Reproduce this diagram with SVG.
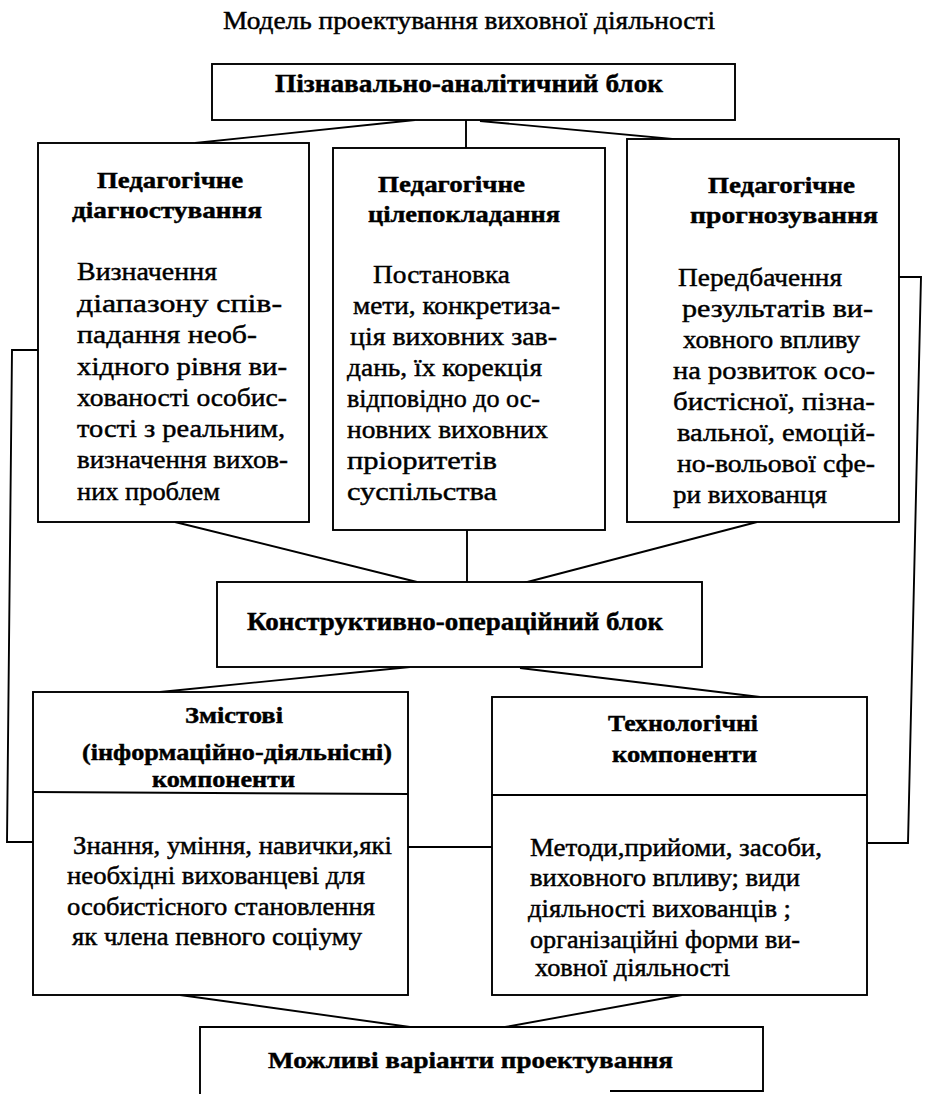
<svg xmlns="http://www.w3.org/2000/svg" width="929" height="1094" viewBox="0 0 929 1094">
<style>
.box{fill:#fff;stroke:#000;stroke-width:1.9}
.ln{fill:none;stroke:#000;stroke-width:1.9}
text{font-family:"Liberation Serif","Times New Roman",serif;fill:#000;stroke:#000;stroke-width:0.45}
.b{font-weight:bold}
.h{font-size:24px;font-weight:bold}
.t{font-size:26px}
.u{font-size:25px}
</style>
<rect x="0" y="0" width="929" height="1094" fill="#fff"/>
<text x="223" y="29" style="font-size:25px" textLength="492" lengthAdjust="spacingAndGlyphs">Модель проектування виховної діяльності</text>
<g id="connectors">
<line class="ln" x1="415" y1="120" x2="195" y2="143"/>
<line class="ln" x1="466" y1="120" x2="466" y2="148"/>
<line class="ln" x1="480" y1="121" x2="790" y2="150"/>
<line class="ln" x1="175" y1="522" x2="417" y2="582"/>
<line class="ln" x1="467" y1="530" x2="467" y2="582"/>
<line class="ln" x1="757" y1="522" x2="512" y2="586"/>
<line class="ln" x1="410" y1="667" x2="160" y2="692"/>
<line class="ln" x1="520" y1="668" x2="760" y2="697"/>
<line class="ln" x1="408" y1="847" x2="492" y2="847"/>
<polyline class="ln" points="38,350 12,350 7,842 33,842"/>
<polyline class="ln" points="899,277 921,277 908,843 867,843"/>
<line class="ln" x1="180" y1="995" x2="410" y2="1027"/>
<line class="ln" x1="682" y1="995" x2="505" y2="1027"/>
</g>
<g id="n-cognitive">
<rect class="box" x="212" y="64" width="523" height="56"/>
<text class="b" x="275" y="92" style="font-size:26px" textLength="388" lengthAdjust="spacingAndGlyphs">Пізнавально-аналітичний блок</text>
</g>
<g id="n-diagnosis">
<rect class="box" x="38" y="143" width="271" height="379"/>
<text class="h" x="97" y="188" textLength="146" lengthAdjust="spacingAndGlyphs">Педагогічне</text>
<text class="h" x="72" y="218" textLength="190" lengthAdjust="spacingAndGlyphs">діагностування</text>
<text class="t" x="77" y="280" textLength="140" lengthAdjust="spacingAndGlyphs">Визначення</text>
<text class="t" x="77" y="312" textLength="205" lengthAdjust="spacingAndGlyphs">діапазону спів-</text>
<text class="t" x="77" y="343" textLength="180" lengthAdjust="spacingAndGlyphs">падання необ-</text>
<text class="t" x="77" y="375" textLength="210" lengthAdjust="spacingAndGlyphs">хідного рівня ви-</text>
<text class="t" x="77" y="406" textLength="210" lengthAdjust="spacingAndGlyphs">хованості особис-</text>
<text class="t" x="77" y="437" textLength="208" lengthAdjust="spacingAndGlyphs">тості з реальним,</text>
<text class="t" x="77" y="468" textLength="211" lengthAdjust="spacingAndGlyphs">визначення вихов-</text>
<text class="t" x="77" y="500" textLength="143" lengthAdjust="spacingAndGlyphs">них проблем</text>
</g>
<g id="n-goal">
<rect class="box" x="333" y="148" width="272" height="382"/>
<text class="h" x="378" y="192" textLength="147" lengthAdjust="spacingAndGlyphs">Педагогічне</text>
<text class="h" x="368" y="222" textLength="192" lengthAdjust="spacingAndGlyphs">цілепокладання</text>
<text class="t" x="373" y="283" textLength="137" lengthAdjust="spacingAndGlyphs">Постановка</text>
<text class="t" x="353" y="314" textLength="207" lengthAdjust="spacingAndGlyphs">мети, конкретиза-</text>
<text class="t" x="350" y="345" textLength="207" lengthAdjust="spacingAndGlyphs">ція виховних зав-</text>
<text class="t" x="347" y="376" textLength="195" lengthAdjust="spacingAndGlyphs">дань, їх корекція</text>
<text class="t" x="347" y="407" textLength="193" lengthAdjust="spacingAndGlyphs">відповідно до ос-</text>
<text class="t" x="347" y="438" textLength="201" lengthAdjust="spacingAndGlyphs">новних виховних</text>
<text class="t" x="347" y="469" textLength="150" lengthAdjust="spacingAndGlyphs">пріоритетів</text>
<text class="t" x="347" y="500" textLength="150" lengthAdjust="spacingAndGlyphs">суспільства</text>
</g>
<g id="n-forecast">
<rect class="box" x="627" y="139" width="272" height="383"/>
<text class="h" x="708" y="193" textLength="147" lengthAdjust="spacingAndGlyphs">Педагогічне</text>
<text class="h" x="690" y="223" textLength="188" lengthAdjust="spacingAndGlyphs">прогнозування</text>
<text class="t" x="678" y="286" textLength="164" lengthAdjust="spacingAndGlyphs">Передбачення</text>
<text class="t" x="682" y="317" textLength="191" lengthAdjust="spacingAndGlyphs">результатів ви-</text>
<text class="t" x="683" y="348" textLength="177" lengthAdjust="spacingAndGlyphs">ховного впливу</text>
<text class="t" x="673" y="379" textLength="202" lengthAdjust="spacingAndGlyphs">на розвиток осо-</text>
<text class="t" x="673" y="410" textLength="202" lengthAdjust="spacingAndGlyphs">бистісної, пізна-</text>
<text class="t" x="677" y="441" textLength="198" lengthAdjust="spacingAndGlyphs">вальної, емоцій-</text>
<text class="t" x="677" y="472" textLength="198" lengthAdjust="spacingAndGlyphs">но-вольової сфе-</text>
<text class="t" x="673" y="503" textLength="154" lengthAdjust="spacingAndGlyphs">ри вихованця</text>
</g>
<g id="n-constructive">
<rect class="box" x="217" y="582" width="485" height="85"/>
<text class="b" x="247" y="630" style="font-size:25px" textLength="416" lengthAdjust="spacingAndGlyphs">Конструктивно-операційний блок</text>
</g>
<g id="n-content">
<rect class="box" x="33" y="692" width="375" height="303"/>
<line class="ln" x1="33" y1="792" x2="408" y2="794"/>
<text class="h" x="185" y="723" textLength="98" lengthAdjust="spacingAndGlyphs">Змістові</text>
<text class="h" x="82" y="760" textLength="310" lengthAdjust="spacingAndGlyphs">(інформаційно-діяльнісні)</text>
<text class="h" x="152" y="787" textLength="143" lengthAdjust="spacingAndGlyphs">компоненти</text>
<text class="u" x="73" y="854" textLength="319" lengthAdjust="spacingAndGlyphs">Знання, уміння, навички,які</text>
<text class="u" x="67" y="884" textLength="298" lengthAdjust="spacingAndGlyphs">необхідні вихованцеві для</text>
<text class="u" x="67" y="915" textLength="308" lengthAdjust="spacingAndGlyphs">особистісного становлення</text>
<text class="u" x="72" y="945" textLength="290" lengthAdjust="spacingAndGlyphs">як члена певного соціуму</text>
</g>
<g id="n-technology">
<rect class="box" x="492" y="697" width="375" height="298"/>
<line class="ln" x1="492" y1="795" x2="867" y2="795"/>
<text class="h" x="608" y="731" textLength="150" lengthAdjust="spacingAndGlyphs">Технологічні</text>
<text class="h" x="612" y="762" textLength="145" lengthAdjust="spacingAndGlyphs">компоненти</text>
<text class="u" x="530" y="856" textLength="292" lengthAdjust="spacingAndGlyphs">Методи,прийоми, засоби,</text>
<text class="u" x="530" y="886" textLength="270" lengthAdjust="spacingAndGlyphs">виховного впливу; види</text>
<text class="u" x="528" y="917" textLength="263" lengthAdjust="spacingAndGlyphs">діяльності вихованців ;</text>
<text class="u" x="530" y="948" textLength="270" lengthAdjust="spacingAndGlyphs">організаційні форми ви-</text>
<text class="u" x="535" y="976" textLength="195" lengthAdjust="spacingAndGlyphs">ховної діяльності</text>
</g>
<g id="n-variants">
<path class="box" d="M200,1094 V1027 H763 V1091 H610"/>
<text class="b" x="268" y="1068" style="font-size:24px" textLength="405" lengthAdjust="spacingAndGlyphs">Можливі варіанти проектування</text>
</g>
</svg>
